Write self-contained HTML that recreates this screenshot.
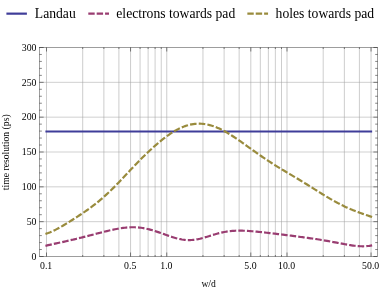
<!DOCTYPE html>
<html><head><meta charset="utf-8"><title>plot</title>
<style>
html,body{margin:0;padding:0;background:#fff;}
body{width:382px;height:291px;overflow:hidden;font-family:"Liberation Serif",serif;}
svg{display:block;}
text{font-family:"Liberation Serif",serif;fill:#000;}
</style></head><body>
<svg width="382" height="291" viewBox="0 0 382 291">
<rect width="382" height="291" fill="#fff"/>

<g stroke="#9a9a9a" stroke-width="0.5" fill="none">
<line x1="46.50" y1="47.50" x2="46.50" y2="256.50"/>
<line x1="82.70" y1="47.50" x2="82.70" y2="256.50"/>
<line x1="103.87" y1="47.50" x2="103.87" y2="256.50"/>
<line x1="118.90" y1="47.50" x2="118.90" y2="256.50"/>
<line x1="130.55" y1="47.50" x2="130.55" y2="256.50"/>
<line x1="140.07" y1="47.50" x2="140.07" y2="256.50"/>
<line x1="148.12" y1="47.50" x2="148.12" y2="256.50"/>
<line x1="155.10" y1="47.50" x2="155.10" y2="256.50"/>
<line x1="161.25" y1="47.50" x2="161.25" y2="256.50"/>
<line x1="166.75" y1="47.50" x2="166.75" y2="256.50"/>
<line x1="202.95" y1="47.50" x2="202.95" y2="256.50"/>
<line x1="224.12" y1="47.50" x2="224.12" y2="256.50"/>
<line x1="239.15" y1="47.50" x2="239.15" y2="256.50"/>
<line x1="250.80" y1="47.50" x2="250.80" y2="256.50"/>
<line x1="260.32" y1="47.50" x2="260.32" y2="256.50"/>
<line x1="268.37" y1="47.50" x2="268.37" y2="256.50"/>
<line x1="275.35" y1="47.50" x2="275.35" y2="256.50"/>
<line x1="281.50" y1="47.50" x2="281.50" y2="256.50"/>
<line x1="287.00" y1="47.50" x2="287.00" y2="256.50"/>
<line x1="323.20" y1="47.50" x2="323.20" y2="256.50"/>
<line x1="344.37" y1="47.50" x2="344.37" y2="256.50"/>
<line x1="359.40" y1="47.50" x2="359.40" y2="256.50"/>
<line x1="371.05" y1="47.50" x2="371.05" y2="256.50"/>
</g>
<g stroke="#a0a0a0" stroke-width="0.5" fill="none">
<line x1="39.45" y1="221.66" x2="377.60" y2="221.66"/>
<line x1="39.45" y1="186.83" x2="377.60" y2="186.83"/>
<line x1="39.45" y1="152.00" x2="377.60" y2="152.00"/>
<line x1="39.45" y1="117.16" x2="377.60" y2="117.16"/>
<line x1="39.45" y1="82.33" x2="377.60" y2="82.33"/>
</g>
<path d="M46.50 131.49 L371.05 131.49" stroke="#3f3d99" stroke-width="2.2" fill="none" stroke-linecap="square"/>
<path d="M46.50 245.56 L48.13 245.18 L49.76 244.82 L51.39 244.45 L53.02 244.09 L54.65 243.74 L56.29 243.38 L57.92 243.03 L59.55 242.67 L61.18 242.31 L62.81 241.96 L64.44 241.59 L66.07 241.23 L67.70 240.86 L69.33 240.49 L70.96 240.11 L72.59 239.73 L74.23 239.35 L75.86 238.96 L77.49 238.56 L79.12 238.16 L80.75 237.76 L82.38 237.35 L84.01 236.94 L85.64 236.53 L87.27 236.11 L88.90 235.69 L90.53 235.26 L92.17 234.84 L93.80 234.41 L95.43 233.99 L97.06 233.56 L98.69 233.14 L100.32 232.72 L101.95 232.30 L103.58 231.89 L105.21 231.49 L106.84 231.09 L108.47 230.71 L110.11 230.33 L111.74 229.97 L113.37 229.62 L115.00 229.29 L116.63 228.97 L118.26 228.68 L119.89 228.40 L121.52 228.15 L123.15 227.93 L124.78 227.73 L126.41 227.56 L128.05 227.43 L129.68 227.33 L131.31 227.26 L132.94 227.24 L134.57 227.26 L136.20 227.32 L137.83 227.43 L139.46 227.58 L141.09 227.77 L142.72 228.01 L144.35 228.30 L145.99 228.62 L147.62 228.99 L149.25 229.39 L150.88 229.83 L152.51 230.29 L154.14 230.79 L155.77 231.31 L157.40 231.85 L159.03 232.41 L160.66 232.98 L162.29 233.56 L163.93 234.14 L165.56 234.73 L167.19 235.31 L168.82 235.88 L170.45 236.43 L172.08 236.97 L173.71 237.48 L175.34 237.96 L176.97 238.41 L178.60 238.81 L180.23 239.17 L181.87 239.47 L183.50 239.72 L185.13 239.91 L186.76 240.03 L188.39 240.09 L190.02 240.08 L191.65 240.01 L193.28 239.88 L194.91 239.68 L196.54 239.42 L198.17 239.11 L199.81 238.75 L201.44 238.35 L203.07 237.91 L204.70 237.44 L206.33 236.96 L207.96 236.46 L209.59 235.95 L211.22 235.44 L212.85 234.94 L214.48 234.46 L216.11 233.99 L217.75 233.54 L219.38 233.11 L221.01 232.71 L222.64 232.35 L224.27 232.02 L225.90 231.72 L227.53 231.46 L229.16 231.24 L230.79 231.05 L232.42 230.90 L234.05 230.78 L235.69 230.71 L237.32 230.66 L238.95 230.64 L240.58 230.65 L242.21 230.69 L243.84 230.74 L245.47 230.81 L247.10 230.90 L248.73 231.01 L250.36 231.12 L251.99 231.25 L253.63 231.39 L255.26 231.54 L256.89 231.69 L258.52 231.85 L260.15 232.02 L261.78 232.19 L263.41 232.37 L265.04 232.55 L266.67 232.73 L268.30 232.92 L269.93 233.11 L271.57 233.30 L273.20 233.49 L274.83 233.69 L276.46 233.88 L278.09 234.08 L279.72 234.28 L281.35 234.48 L282.98 234.68 L284.61 234.88 L286.24 235.08 L287.87 235.29 L289.51 235.49 L291.14 235.70 L292.77 235.91 L294.40 236.12 L296.03 236.33 L297.66 236.54 L299.29 236.75 L300.92 236.97 L302.55 237.19 L304.18 237.41 L305.81 237.63 L307.45 237.85 L309.08 238.08 L310.71 238.31 L312.34 238.55 L313.97 238.78 L315.60 239.03 L317.23 239.27 L318.86 239.52 L320.49 239.78 L322.12 240.04 L323.75 240.31 L325.39 240.58 L327.02 240.86 L328.65 241.15 L330.28 241.44 L331.91 241.74 L333.54 242.05 L335.17 242.36 L336.80 242.67 L338.43 242.98 L340.06 243.30 L341.69 243.61 L343.33 243.92 L344.96 244.22 L346.59 244.52 L348.22 244.80 L349.85 245.07 L351.48 245.32 L353.11 245.55 L354.74 245.76 L356.37 245.94 L358.00 246.09 L359.63 246.20 L361.27 246.27 L362.90 246.29 L364.53 246.26 L366.16 246.18 L367.79 246.03 L369.42 245.82 L371.05 245.53" stroke="#993d71" stroke-width="2.2" fill="none" stroke-linecap="square" stroke-dasharray="4.302 4.302"/>
<path d="M46.50 233.65 L48.13 233.09 L49.76 232.45 L51.39 231.76 L53.02 231.01 L54.65 230.22 L56.29 229.38 L57.92 228.51 L59.55 227.61 L61.18 226.69 L62.81 225.74 L64.44 224.77 L66.07 223.78 L67.70 222.79 L69.33 221.78 L70.96 220.76 L72.59 219.74 L74.23 218.70 L75.86 217.66 L77.49 216.61 L79.12 215.54 L80.75 214.47 L82.38 213.39 L84.01 212.28 L85.64 211.16 L87.27 210.02 L88.90 208.86 L90.53 207.67 L92.17 206.45 L93.80 205.21 L95.43 203.94 L97.06 202.63 L98.69 201.30 L100.32 199.93 L101.95 198.53 L103.58 197.10 L105.21 195.63 L106.84 194.14 L108.47 192.61 L110.11 191.06 L111.74 189.48 L113.37 187.87 L115.00 186.23 L116.63 184.58 L118.26 182.90 L119.89 181.21 L121.52 179.50 L123.15 177.77 L124.78 176.04 L126.41 174.31 L128.05 172.57 L129.68 170.83 L131.31 169.10 L132.94 167.38 L134.57 165.67 L136.20 163.97 L137.83 162.28 L139.46 160.61 L141.09 158.97 L142.72 157.34 L144.35 155.73 L145.99 154.14 L147.62 152.58 L149.25 151.04 L150.88 149.53 L152.51 148.04 L154.14 146.57 L155.77 145.14 L157.40 143.73 L159.03 142.34 L160.66 140.99 L162.29 139.68 L163.93 138.39 L165.56 137.15 L167.19 135.94 L168.82 134.78 L170.45 133.67 L172.08 132.60 L173.71 131.58 L175.34 130.62 L176.97 129.72 L178.60 128.87 L180.23 128.08 L181.87 127.36 L183.50 126.69 L185.13 126.09 L186.76 125.56 L188.39 125.09 L190.02 124.69 L191.65 124.35 L193.28 124.08 L194.91 123.88 L196.54 123.75 L198.17 123.69 L199.81 123.69 L201.44 123.76 L203.07 123.89 L204.70 124.09 L206.33 124.36 L207.96 124.68 L209.59 125.07 L211.22 125.52 L212.85 126.03 L214.48 126.59 L216.11 127.21 L217.75 127.89 L219.38 128.61 L221.01 129.38 L222.64 130.20 L224.27 131.07 L225.90 131.97 L227.53 132.92 L229.16 133.89 L230.79 134.91 L232.42 135.95 L234.05 137.01 L235.69 138.10 L237.32 139.21 L238.95 140.34 L240.58 141.47 L242.21 142.62 L243.84 143.78 L245.47 144.94 L247.10 146.11 L248.73 147.28 L250.36 148.45 L251.99 149.61 L253.63 150.77 L255.26 151.93 L256.89 153.08 L258.52 154.22 L260.15 155.36 L261.78 156.48 L263.41 157.59 L265.04 158.69 L266.67 159.78 L268.30 160.86 L269.93 161.93 L271.57 162.98 L273.20 164.02 L274.83 165.05 L276.46 166.07 L278.09 167.08 L279.72 168.08 L281.35 169.07 L282.98 170.05 L284.61 171.03 L286.24 172.00 L287.87 172.97 L289.51 173.94 L291.14 174.90 L292.77 175.87 L294.40 176.84 L296.03 177.81 L297.66 178.79 L299.29 179.77 L300.92 180.76 L302.55 181.75 L304.18 182.75 L305.81 183.75 L307.45 184.76 L309.08 185.78 L310.71 186.79 L312.34 187.81 L313.97 188.84 L315.60 189.86 L317.23 190.88 L318.86 191.91 L320.49 192.93 L322.12 193.94 L323.75 194.95 L325.39 195.95 L327.02 196.93 L328.65 197.91 L330.28 198.87 L331.91 199.81 L333.54 200.73 L335.17 201.64 L336.80 202.53 L338.43 203.39 L340.06 204.23 L341.69 205.06 L343.33 205.86 L344.96 206.64 L346.59 207.39 L348.22 208.13 L349.85 208.84 L351.48 209.53 L353.11 210.20 L354.74 210.86 L356.37 211.49 L358.00 212.11 L359.63 212.71 L361.27 213.31 L362.90 213.89 L364.53 214.46 L366.16 215.02 L367.79 215.58 L369.42 216.13 L371.05 216.69" stroke="#998b3d" stroke-width="2.2" fill="none" stroke-linecap="square" stroke-dasharray="4.362 4.362"/>
<rect x="39.45" y="47.50" width="338.15" height="209.00" fill="none" stroke="#3c3c3c" stroke-width="0.5"/>
<g stroke="#111" stroke-width="0.5" fill="none">
<line x1="39.45" y1="256.50" x2="43.65" y2="256.50"/>
<line x1="377.60" y1="256.50" x2="373.40" y2="256.50"/>
<line x1="39.45" y1="249.53" x2="41.85" y2="249.53"/>
<line x1="377.60" y1="249.53" x2="375.20" y2="249.53"/>
<line x1="39.45" y1="242.57" x2="41.85" y2="242.57"/>
<line x1="377.60" y1="242.57" x2="375.20" y2="242.57"/>
<line x1="39.45" y1="235.60" x2="41.85" y2="235.60"/>
<line x1="377.60" y1="235.60" x2="375.20" y2="235.60"/>
<line x1="39.45" y1="228.63" x2="41.85" y2="228.63"/>
<line x1="377.60" y1="228.63" x2="375.20" y2="228.63"/>
<line x1="39.45" y1="221.66" x2="43.65" y2="221.66"/>
<line x1="377.60" y1="221.66" x2="373.40" y2="221.66"/>
<line x1="39.45" y1="214.70" x2="41.85" y2="214.70"/>
<line x1="377.60" y1="214.70" x2="375.20" y2="214.70"/>
<line x1="39.45" y1="207.73" x2="41.85" y2="207.73"/>
<line x1="377.60" y1="207.73" x2="375.20" y2="207.73"/>
<line x1="39.45" y1="200.76" x2="41.85" y2="200.76"/>
<line x1="377.60" y1="200.76" x2="375.20" y2="200.76"/>
<line x1="39.45" y1="193.80" x2="41.85" y2="193.80"/>
<line x1="377.60" y1="193.80" x2="375.20" y2="193.80"/>
<line x1="39.45" y1="186.83" x2="43.65" y2="186.83"/>
<line x1="377.60" y1="186.83" x2="373.40" y2="186.83"/>
<line x1="39.45" y1="179.86" x2="41.85" y2="179.86"/>
<line x1="377.60" y1="179.86" x2="375.20" y2="179.86"/>
<line x1="39.45" y1="172.90" x2="41.85" y2="172.90"/>
<line x1="377.60" y1="172.90" x2="375.20" y2="172.90"/>
<line x1="39.45" y1="165.93" x2="41.85" y2="165.93"/>
<line x1="377.60" y1="165.93" x2="375.20" y2="165.93"/>
<line x1="39.45" y1="158.96" x2="41.85" y2="158.96"/>
<line x1="377.60" y1="158.96" x2="375.20" y2="158.96"/>
<line x1="39.45" y1="152.00" x2="43.65" y2="152.00"/>
<line x1="377.60" y1="152.00" x2="373.40" y2="152.00"/>
<line x1="39.45" y1="145.03" x2="41.85" y2="145.03"/>
<line x1="377.60" y1="145.03" x2="375.20" y2="145.03"/>
<line x1="39.45" y1="138.06" x2="41.85" y2="138.06"/>
<line x1="377.60" y1="138.06" x2="375.20" y2="138.06"/>
<line x1="39.45" y1="131.09" x2="41.85" y2="131.09"/>
<line x1="377.60" y1="131.09" x2="375.20" y2="131.09"/>
<line x1="39.45" y1="124.13" x2="41.85" y2="124.13"/>
<line x1="377.60" y1="124.13" x2="375.20" y2="124.13"/>
<line x1="39.45" y1="117.16" x2="43.65" y2="117.16"/>
<line x1="377.60" y1="117.16" x2="373.40" y2="117.16"/>
<line x1="39.45" y1="110.19" x2="41.85" y2="110.19"/>
<line x1="377.60" y1="110.19" x2="375.20" y2="110.19"/>
<line x1="39.45" y1="103.23" x2="41.85" y2="103.23"/>
<line x1="377.60" y1="103.23" x2="375.20" y2="103.23"/>
<line x1="39.45" y1="96.26" x2="41.85" y2="96.26"/>
<line x1="377.60" y1="96.26" x2="375.20" y2="96.26"/>
<line x1="39.45" y1="89.29" x2="41.85" y2="89.29"/>
<line x1="377.60" y1="89.29" x2="375.20" y2="89.29"/>
<line x1="39.45" y1="82.33" x2="43.65" y2="82.33"/>
<line x1="377.60" y1="82.33" x2="373.40" y2="82.33"/>
<line x1="39.45" y1="75.36" x2="41.85" y2="75.36"/>
<line x1="377.60" y1="75.36" x2="375.20" y2="75.36"/>
<line x1="39.45" y1="68.39" x2="41.85" y2="68.39"/>
<line x1="377.60" y1="68.39" x2="375.20" y2="68.39"/>
<line x1="39.45" y1="61.42" x2="41.85" y2="61.42"/>
<line x1="377.60" y1="61.42" x2="375.20" y2="61.42"/>
<line x1="39.45" y1="54.46" x2="41.85" y2="54.46"/>
<line x1="377.60" y1="54.46" x2="375.20" y2="54.46"/>
<line x1="39.45" y1="47.49" x2="43.65" y2="47.49"/>
<line x1="377.60" y1="47.49" x2="373.40" y2="47.49"/>
<line x1="46.50" y1="256.50" x2="46.50" y2="252.50"/>
<line x1="46.50" y1="47.50" x2="46.50" y2="51.50"/>
<line x1="82.70" y1="256.50" x2="82.70" y2="255.00"/>
<line x1="82.70" y1="47.50" x2="82.70" y2="49.00"/>
<line x1="103.87" y1="256.50" x2="103.87" y2="255.00"/>
<line x1="103.87" y1="47.50" x2="103.87" y2="49.00"/>
<line x1="118.90" y1="256.50" x2="118.90" y2="255.00"/>
<line x1="118.90" y1="47.50" x2="118.90" y2="49.00"/>
<line x1="130.55" y1="256.50" x2="130.55" y2="252.50"/>
<line x1="130.55" y1="47.50" x2="130.55" y2="51.50"/>
<line x1="140.07" y1="256.50" x2="140.07" y2="255.00"/>
<line x1="140.07" y1="47.50" x2="140.07" y2="49.00"/>
<line x1="148.12" y1="256.50" x2="148.12" y2="255.00"/>
<line x1="148.12" y1="47.50" x2="148.12" y2="49.00"/>
<line x1="155.10" y1="256.50" x2="155.10" y2="255.00"/>
<line x1="155.10" y1="47.50" x2="155.10" y2="49.00"/>
<line x1="161.25" y1="256.50" x2="161.25" y2="255.00"/>
<line x1="161.25" y1="47.50" x2="161.25" y2="49.00"/>
<line x1="166.75" y1="256.50" x2="166.75" y2="252.50"/>
<line x1="166.75" y1="47.50" x2="166.75" y2="51.50"/>
<line x1="202.95" y1="256.50" x2="202.95" y2="255.00"/>
<line x1="202.95" y1="47.50" x2="202.95" y2="49.00"/>
<line x1="224.12" y1="256.50" x2="224.12" y2="255.00"/>
<line x1="224.12" y1="47.50" x2="224.12" y2="49.00"/>
<line x1="239.15" y1="256.50" x2="239.15" y2="255.00"/>
<line x1="239.15" y1="47.50" x2="239.15" y2="49.00"/>
<line x1="250.80" y1="256.50" x2="250.80" y2="252.50"/>
<line x1="250.80" y1="47.50" x2="250.80" y2="51.50"/>
<line x1="260.32" y1="256.50" x2="260.32" y2="255.00"/>
<line x1="260.32" y1="47.50" x2="260.32" y2="49.00"/>
<line x1="268.37" y1="256.50" x2="268.37" y2="255.00"/>
<line x1="268.37" y1="47.50" x2="268.37" y2="49.00"/>
<line x1="275.35" y1="256.50" x2="275.35" y2="255.00"/>
<line x1="275.35" y1="47.50" x2="275.35" y2="49.00"/>
<line x1="281.50" y1="256.50" x2="281.50" y2="255.00"/>
<line x1="281.50" y1="47.50" x2="281.50" y2="49.00"/>
<line x1="287.00" y1="256.50" x2="287.00" y2="252.50"/>
<line x1="287.00" y1="47.50" x2="287.00" y2="51.50"/>
<line x1="323.20" y1="256.50" x2="323.20" y2="255.00"/>
<line x1="323.20" y1="47.50" x2="323.20" y2="49.00"/>
<line x1="344.37" y1="256.50" x2="344.37" y2="255.00"/>
<line x1="344.37" y1="47.50" x2="344.37" y2="49.00"/>
<line x1="359.40" y1="256.50" x2="359.40" y2="255.00"/>
<line x1="359.40" y1="47.50" x2="359.40" y2="49.00"/>
<line x1="371.05" y1="256.50" x2="371.05" y2="252.50"/>
<line x1="371.05" y1="47.50" x2="371.05" y2="51.50"/>
</g>
<path d="M7.5 13.65 L25.8 13.65" stroke="#3f3d99" stroke-width="2.2" stroke-linecap="square"/>
<path d="M89.4 13.65 L107.9 13.65" stroke="#993d71" stroke-width="2.2" stroke-linecap="square" stroke-dasharray="4.19 4.19"/>
<path d="M248.45 13.65 L266.95 13.65" stroke="#998b3d" stroke-width="2.2" stroke-linecap="square" stroke-dasharray="4.19 4.19"/>
<g style="filter:grayscale(1)">
<g font-size="9.8">
<text x="36.45" y="259.80" text-anchor="end">0</text>
<text x="36.45" y="224.97" text-anchor="end">50</text>
<text x="36.45" y="190.13" text-anchor="end">100</text>
<text x="36.45" y="155.30" text-anchor="end">150</text>
<text x="36.45" y="120.46" text-anchor="end">200</text>
<text x="36.45" y="85.63" text-anchor="end">250</text>
<text x="36.45" y="50.79" text-anchor="end">300</text>
<text x="46.15" y="269.10" text-anchor="middle">0.1</text>
<text x="130.20" y="269.10" text-anchor="middle">0.5</text>
<text x="166.40" y="269.10" text-anchor="middle">1.0</text>
<text x="250.45" y="269.10" text-anchor="middle">5.0</text>
<text x="286.65" y="269.10" text-anchor="middle">10.0</text>
<text x="370.70" y="269.10" text-anchor="middle">50.0</text>
</g>
<text x="208.6" y="287.2" font-size="9.6" text-anchor="middle">w/d</text>
<text transform="translate(8.6 152.3) rotate(-90)" font-size="9.7" text-anchor="middle">time resolution (ps)</text>
<g font-size="13.65">
<text x="34.8" y="17.9">Landau</text>
<text x="116.3" y="17.9">electrons towards pad</text>
<text x="275.6" y="17.9">holes towards pad</text>
</g>
</g>
</svg></body></html>
